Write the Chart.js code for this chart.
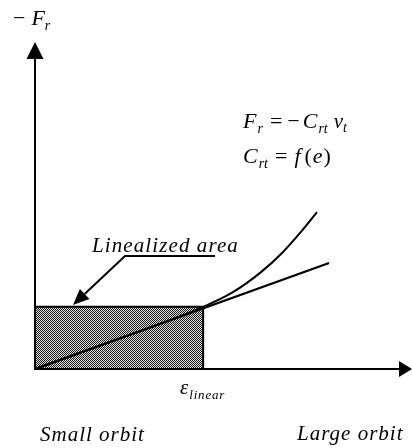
<!DOCTYPE html>
<html>
<head>
<meta charset="utf-8">
<script src="https://cdn.jsdelivr.net/npm/chart.js@4"></script>
<style>
  html, body { margin: 0; padding: 0; background: #fff; }
  canvas { display: block; }
</style>
</head>
<body>
<canvas id="orbit" width="412" height="448"></canvas>
<script>
// eccentricity axis (arbitrary units 0..100) and -Fr axis (0..100)
const linearX = [0, 78];
const linearY = [0, 32.4];

const curveX = [0, 20, 44.6, 52.5, 59.7, 65.8, 70.3, 74.8];
const curveY = [0, 8.3, 19.0, 23.5, 29.4, 35.8, 41.6, 48.0];

const areaX = [0, 44.6, 44.6];
const areaY = [19.0, 19.0, 0];

const toPoints = (xs, ys) => xs.map((x, i) => ({ x: x, y: ys[i] }));

// dithered grey fill like the scanned figure
const patCanvas = document.createElement('canvas');
patCanvas.width = 2;
patCanvas.height = 2;
const pctx = patCanvas.getContext('2d');
pctx.fillStyle = '#e0e0e0';
pctx.fillRect(0, 0, 2, 2);
pctx.fillStyle = '#1a1a1a';
pctx.fillRect(0, 0, 1, 1);
pctx.fillRect(1, 1, 1, 1);
const hatch = pctx.createPattern(patCanvas, 'repeat');

const SERIF = '"Liberation Serif", "DejaVu Serif", serif';

// axes with arrowheads and the text labels
const sketch = {
  id: 'sketch',
  afterDatasetsDraw(chart) {
    const ctx = chart.ctx;
    const x = chart.scales.x, y = chart.scales.y;
    const x0 = x.getPixelForValue(0), y0 = y.getPixelForValue(0);
    const xEnd = x.getPixelForValue(100), yEnd = y.getPixelForValue(100);
    ctx.save();
    ctx.strokeStyle = '#000';
    ctx.fillStyle = '#000';
    ctx.lineWidth = 2;
    ctx.beginPath();
    ctx.moveTo(x0, yEnd + 10);
    ctx.lineTo(x0, y0);
    ctx.lineTo(xEnd - 8, y0);
    ctx.stroke();
    // y arrow
    ctx.beginPath();
    ctx.moveTo(x0, yEnd);
    ctx.lineTo(x0 - 8.5, yEnd + 17);
    ctx.lineTo(x0 + 8.5, yEnd + 17);
    ctx.closePath();
    ctx.fill();
    // x arrow
    ctx.beginPath();
    ctx.moveTo(xEnd, y0);
    ctx.lineTo(xEnd - 13, y0 - 8);
    ctx.lineTo(xEnd - 13, y0 + 8);
    ctx.closePath();
    ctx.fill();

    // leader to the linearized area
    const lx = 125, ly = 256, tx = 73, ty = 305;
    ctx.lineWidth = 2;
    ctx.beginPath();
    ctx.moveTo(215, ly);
    ctx.lineTo(lx, ly);
    const ang = Math.atan2(ty - ly, tx - lx);
    const bx = tx - 16 * Math.cos(ang), by = ty - 16 * Math.sin(ang);
    ctx.lineTo(bx, by);
    ctx.stroke();
    ctx.beginPath();
    ctx.moveTo(tx, ty);
    ctx.lineTo(bx + 7 * Math.sin(ang), by - 7 * Math.cos(ang));
    ctx.lineTo(bx - 7 * Math.sin(ang), by + 7 * Math.cos(ang));
    ctx.closePath();
    ctx.fill();

    ctx.textBaseline = 'alphabetic';
    ctx.textAlign = 'left';
    const it = (size) => 'italic ' + size + 'px ' + SERIF;
    const rm = (size) => size + 'px ' + SERIF;
    const run = (parts, px, py) => {
      let cx = px;
      parts.forEach(p => {
        ctx.font = p.f;
        ctx.letterSpacing = (p.ls || 0) + 'px';
        ctx.fillText(p.t, cx, py + (p.dy || 0));
        cx += ctx.measureText(p.t).width + (p.gap || 0);
      });
      ctx.letterSpacing = '0px';
    };

    // -Fr
    run([{ t: '\u2212', f: rm(22), gap: 6 }, { t: 'F', f: it(22) }, { t: 'r', f: it(14), dy: 5 }], 13, 25);

    // equations
    run([{ t: 'F', f: it(22), gap: 1 }, { t: 'r', f: it(14), dy: 5, gap: 7 },
         { t: '=', f: rm(22), gap: 5 }, { t: '\u2212', f: rm(22), gap: 3 }, { t: 'C', f: it(22), gap: 1 },
         { t: 'rt', f: it(14), dy: 5, gap: 6 }, { t: 'v', f: it(21) },
         { t: 't', f: it(14), dy: 4 }], 243, 128);
    run([{ t: 'C', f: it(22), gap: 1 }, { t: 'rt', f: it(14), dy: 5, gap: 7 },
         { t: '=', f: rm(22), gap: 7 }, { t: 'f', f: it(22), gap: 4 },
         { t: '(', f: rm(22), gap: 1 }, { t: 'e', f: it(22), gap: 1 }, { t: ')', f: rm(22) }], 243, 163);

    run([{ t: 'Linealized area', f: it(21), ls: 1.1 }], 92, 252);

    run([{ t: '\u03b5', f: it(21), gap: 1 }, { t: 'linear', f: it(13), dy: 5, ls: 0.8 }], 180, 394);

    run([{ t: 'Small orbit', f: it(21), ls: 1 }], 40, 441);
    run([{ t: 'Large orbit', f: it(21), ls: 1 }], 297, 440);
    ctx.restore();
  }
};

new Chart(document.getElementById('orbit').getContext('2d'), {
  type: 'line',
  data: {
    datasets: [{
      data: toPoints(linearX, linearY),
      borderColor: '#000',
      borderWidth: 2.2,
      fill: false,
      pointRadius: 0
    }, {
      data: toPoints(curveX, curveY),
      borderColor: '#000',
      borderWidth: 2,
      fill: false,
      pointRadius: 0,
      cubicInterpolationMode: 'monotone'
    }, {
      data: toPoints(areaX, areaY),
      borderColor: '#000',
      borderWidth: 2,
      backgroundColor: hatch,
      fill: 'origin',
      pointRadius: 0,
      tension: 0
    }]
  },
  options: {
    responsive: false,
    animation: false,
    events: [],
    layout: { padding: { left: 35, right: 0, top: 42, bottom: 79 } },
    scales: {
      x: { type: 'linear', min: 0, max: 100, display: false },
      y: { type: 'linear', min: 0, max: 100, display: false }
    },
    plugins: {
      legend: { display: false },
      tooltip: { enabled: false }
    }
  },
  plugins: [sketch]
});
</script>
</body>
</html>
